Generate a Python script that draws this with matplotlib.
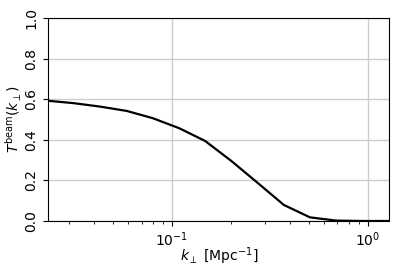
import numpy as np
import matplotlib
matplotlib.use("Agg")
import matplotlib.pyplot as plt

# beam transfer function
k_perp = [0.0234, 0.0318, 0.0433, 0.0589, 0.0801, 0.109, 0.148,
          0.201, 0.274, 0.373, 0.507, 0.689, 0.937, 1.29]
t_beam = [0.592, 0.580, 0.563, 0.542, 0.506, 0.457, 0.394,
          0.296, 0.188, 0.079, 0.018, 0.002, 0.0, 0.0]

fig = plt.figure(figsize=(3.99, 2.72), dpi=100)
ax = fig.add_axes([0.121, 0.1875, 0.855, 0.7465])
ax.plot(k_perp, t_beam, color="black", lw=1.6)
ax.set_xscale("log")
ax.set_xlim(k_perp[0], k_perp[-1])
ax.set_ylim(0, 1)
ax.grid(True, color="#cccccc", lw=1)
ax.set_axisbelow(True)
plt.yticks(np.arange(0, 1.01, 0.2), rotation=90, va="center")
ax.set_xlabel(r"$k_\perp$ [Mpc$^{-1}$]", labelpad=-3)
ax.set_ylabel(r"$T^{\rm beam}(k_\perp)$", labelpad=0.5)

fig.savefig("out.png", dpi=100)
